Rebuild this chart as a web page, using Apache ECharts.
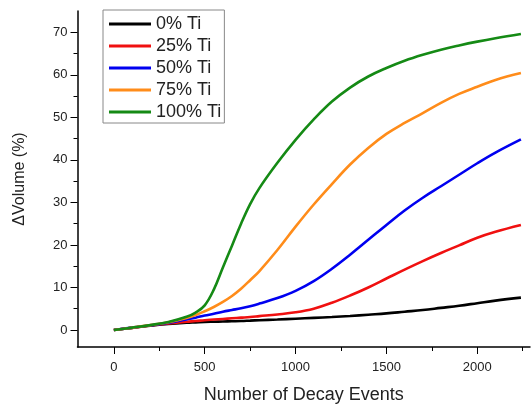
<!DOCTYPE html>
<html>
<head>
<meta charset="utf-8">
<script src="https://cdn.jsdelivr.net/npm/echarts@6/dist/echarts.min.js"></script>
<style>
  html, body { margin: 0; padding: 0; background: #fff; }
  #chart { width: 531px; height: 404px; }
</style>
</head>
<body>
<div id="chart"></div>
<script>
// ---- data ----
const decayEvents = [0,100,200,300,400,450,500,550,600,650,700,750,800,900,1000,1100,1200,1300,1400,1500,1600,1700,1800,1900,2000,2100,2240];
const ti0   = [0,0.5,1.0,1.4,1.7,1.8,1.9,1.95,2.0,2.05,2.1,2.2,2.3,2.45,2.65,2.85,3.05,3.3,3.6,3.9,4.3,4.7,5.2,5.7,6.3,6.9,7.6];
const ti25  = [0,0.5,1.05,1.55,1.95,2.1,2.3,2.45,2.6,2.75,2.9,3.05,3.25,3.65,4.15,5.0,6.4,8.1,10.0,12.1,14.2,16.2,18.1,19.9,21.7,23.1,24.7];
const ti50  = [0,0.55,1.1,1.7,2.5,2.9,3.4,3.8,4.3,4.7,5.1,5.6,6.2,7.5,9.2,11.5,14.4,17.7,21.2,24.7,28.1,31.1,33.8,36.5,39.2,41.7,44.8];
const ti75  = [0,0.55,1.15,1.8,2.8,3.5,4.4,5.4,6.6,8.0,9.7,11.7,13.8,18.8,24.3,29.5,34.3,38.9,42.8,46.1,48.7,51.0,53.4,55.5,57.2,58.8,60.4];
const ti100 = [0,0.55,1.15,1.9,3.1,4.1,5.8,9.5,14.7,19.8,25.0,29.6,33.3,39.3,44.7,49.5,53.7,57.0,59.6,61.6,63.3,64.7,65.9,66.9,67.8,68.6,69.6];
const seriesNames = ['0% Ti','25% Ti','50% Ti','75% Ti','100% Ti'];
const seriesValues = [ti0, ti25, ti50, ti75, ti100];
const seriesColors = ['#000000','#f01010','#0000f0','#ff8c1a','#158a15'];
const xMajorTicks = [0,500,1000,1500,2000];
const xMinorTicks = [250,750,1250,1750,2250];
const yMajorTicks = [0,10,20,30,40,50,60,70];
const yMinorTicks = [5,15,25,35,45,55,65];

const FONT = 'Arial, "Liberation Sans", sans-serif';
const TXT = '#222';

const chart = echarts.init(document.getElementById('chart'), null, {renderer: 'canvas'});

function pairs(ys) { return ys.map((y, i) => [decayEvents[i], y]); }

const axisLineStyle = { color: '#000', width: 1.5 };
const plain = v => String(v);

const option = {
  animation: false,
  backgroundColor: '#fff',
  textStyle: { fontFamily: FONT },
  grid: { left: 77.5, right: 1, top: 11, bottom: 57, containLabel: false, outerBoundsMode: 'none' },
  legend: {
    orient: 'vertical',
    left: 103, top: 10,
    padding: [3, 3, 0, 6],
    itemGap: 0,
    itemWidth: 42,
    itemHeight: 3,
    icon: 'rect',
    borderColor: '#888',
    borderWidth: 1,
    textStyle: { fontSize: 18, color: TXT, fontFamily: FONT, lineHeight: 22 },
    data: seriesNames
  },
  xAxis: [
    {
      type: 'value', min: -200, max: 2290,
      name: 'Number of Decay Events', nameLocation: 'middle', nameGap: 39,
      nameTextStyle: { fontSize: 18, color: TXT, fontFamily: FONT },
      axisLine: { show: true, onZero: false, lineStyle: axisLineStyle },
      axisTick: { show: true, length: 7, customValues: xMajorTicks, lineStyle: { color: '#000', width: 1 } },
      axisLabel: { show: true, customValues: xMajorTicks, formatter: plain, fontSize: 13, color: TXT, margin: 14, fontFamily: FONT },
      splitLine: { show: false }
    },
    {
      type: 'value', min: -200, max: 2290, position: 'bottom', offset: 0,
      axisLine: { show: false, onZero: false },
      axisTick: { show: true, length: 4, customValues: xMinorTicks, lineStyle: { color: '#000', width: 1 } },
      axisLabel: { show: false },
      splitLine: { show: false }
    }
  ],
  yAxis: [
    {
      type: 'value', min: -4, max: 75,
      name: 'ΔVolume (%)', nameLocation: 'middle', nameGap: 50, nameRotate: 90,
      nameTextStyle: { fontSize: 16, color: TXT, fontFamily: FONT },
      axisLine: { show: true, onZero: false, lineStyle: axisLineStyle },
      axisTick: { show: true, length: 7, customValues: yMajorTicks, lineStyle: { color: '#000', width: 1 } },
      axisLabel: { show: true, customValues: yMajorTicks, formatter: plain, fontSize: 13, color: TXT, margin: 10, fontFamily: FONT },
      splitLine: { show: false }
    },
    {
      type: 'value', min: -4, max: 75, position: 'left', offset: 0,
      axisLine: { show: false, onZero: false },
      axisTick: { show: true, length: 4, customValues: yMinorTicks, lineStyle: { color: '#000', width: 1 } },
      axisLabel: { show: false },
      splitLine: { show: false }
    }
  ],
  series: seriesNames.map((name, i) => ({
    name: name,
    type: 'line',
    xAxisIndex: 0, yAxisIndex: 0,
    data: pairs(seriesValues[i]),
    smooth: 0.4,
    symbol: 'none',
    showSymbol: false,
    color: seriesColors[i],
    itemStyle: { color: seriesColors[i] },
    lineStyle: { color: seriesColors[i], width: 2.6 },
    z: 2 + i
  }))
};

chart.setOption(option);
</script>
</body>
</html>
